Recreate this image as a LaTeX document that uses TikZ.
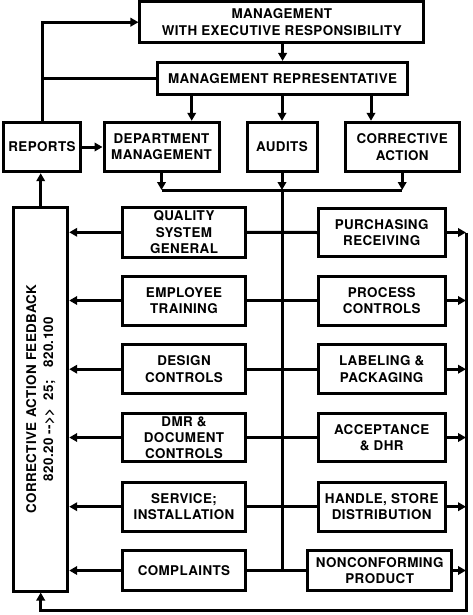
\documentclass[tikz,border=0pt]{standalone}
\usepackage{fontspec}
\setmainfont{TeX Gyre Heros}[Ligatures=TeXOff,LetterSpace=3]
\usetikzlibrary{arrows.meta}
\begin{document}
\begin{tikzpicture}[x=1pt,y=-1pt,line width=3pt,
  box/.style={draw,line width=3pt,inner sep=0pt,align=center,
    font=\fontsize{13.4}{16.3}\selectfont\bfseries},
  arr/.style={-{Triangle[length=8pt,width=8.5pt]}}]
\useasboundingbox[fill=white] (0,0) rectangle (472,615);

% top part
\node[box,minimum width=283.7pt,minimum height=40.5pt] (top) at (281.8,22.2) {MANAGEMENT\\WITH EXECUTIVE RESPONSIBILITY};
\node[box,minimum width=250.2pt,minimum height=31.8pt] (rep) at (282.6,78.4) {MANAGEMENT REPRESENTATIVE};
\node[box,minimum width=77.4pt,minimum height=49.4pt] (rpt) at (42,147) {REPORTS};
\node[box,minimum width=115pt,minimum height=49.4pt] (dept) at (161.5,147) {DEPARTMENT\\MANAGEMENT};
\node[box,minimum width=70pt,minimum height=49.4pt] (aud) at (282,147) {AUDITS};
\node[box,minimum width=114.3pt,minimum height=49.4pt] (ca) at (402.2,147) {CORRECTIVE\\ACTION};

% feedback column
\node[box,rotate=90,minimum width=384pt,minimum height=54pt,
  font=\fontsize{13.4}{17}\selectfont\bfseries] (fb) at (40.7,399)
  {CORRECTIVE ACTION FEEDBACK\\820.20\ -->>\ \ 25;\ \ \ 820.100};

% left column
\node[box,minimum width=123.4pt,minimum height=50pt] (qsg) at (184,232.3) {QUALITY\\SYSTEM\\GENERAL};
\node[box,minimum width=123.4pt,minimum height=49pt] (emp) at (184,300.5) {EMPLOYEE\\TRAINING};
\node[box,minimum width=123.4pt,minimum height=48.5pt] (des) at (184,369.2) {DESIGN\\CONTROLS};
\node[box,minimum width=123.4pt,minimum height=48.5pt] (dmr) at (184,437.5) {DMR \&\\DOCUMENT\\CONTROLS};
\node[box,minimum width=123.4pt,minimum height=48.7pt] (svc) at (184,506.7) {SERVICE;\\INSTALLATION};
\node[box,minimum width=123.4pt,minimum height=40.7pt] (cmp) at (184,570.5) {COMPLAINTS};

% right column
\node[box,minimum width=126.7pt,minimum height=48.5pt] (pur) at (381.7,232.5) {PURCHASING\\RECEIVING};
\node[box,minimum width=126.7pt,minimum height=49pt] (pro) at (381.7,300.5) {PROCESS\\CONTROLS};
\node[box,minimum width=126.7pt,minimum height=48.5pt] (lab) at (381.7,369.2) {LABELING \&\\PACKAGING};
\node[box,minimum width=126.7pt,minimum height=48.5pt] (acc) at (381.7,437.5) {ACCEPTANCE\\\& DHR};
\node[box,minimum width=126.7pt,minimum height=48.7pt] (hsd) at (381.7,506.7) {HANDLE, STORE\\DISTRIBUTION};
\node[box,minimum width=144pt,minimum height=40.7pt] (ncp) at (379.7,570.5) {NONCONFORMING\\PRODUCT};

% helper coordinates
\coordinate (a1) at (191.7,0);
\coordinate (a3) at (371,0);
\coordinate (bus) at (0,190);
\coordinate (rl) at (466,0);
\coordinate (bl) at (0,610.5);

% connectors, top
\draw[arr] (top.south -| rep.north) -- (rep.north);
\draw (rep.west) -- (rep.west -| rpt.north);
\draw[arr] (rpt.north) |- (top.west);
\draw[arr] (a1 |- rep.south) -- (a1 |- dept.north);
\draw[arr] (rep.south -| aud.north) -- (aud.north);
\draw[arr] (a3 |- rep.south) -- (a3 |- ca.north);
\draw[arr] (rpt.east) -- (dept.west);
\draw[arr] (dept.south) -- (dept.south |- bus);
\draw[arr] (aud.south) -- (aud.south |- bus);
\draw[arr] (ca.south) -- (ca.south |- bus);
\draw (dept.south |- bus) -- (ca.south |- bus);
\draw (aud.south |- bus) -- (aud.south |- cmp.east);
\draw[arr] (fb.east) -- (fb.east |- rpt.south);

% rows
\foreach \l/\r in {qsg/pur,emp/pro,des/lab,dmr/acc,svc/hsd,cmp/ncp}{
  \draw[arr] (\l.west) -- (\l.west -| fb.south);
  \draw (\l.east) -- (\r.west);
  \draw[arr] (\r.east) -- (\r.east -| rl);
}
\draw[arr] (rl |- pur.east) -- (rl |- bl) -| (fb.west);
\end{tikzpicture}
\end{document}
